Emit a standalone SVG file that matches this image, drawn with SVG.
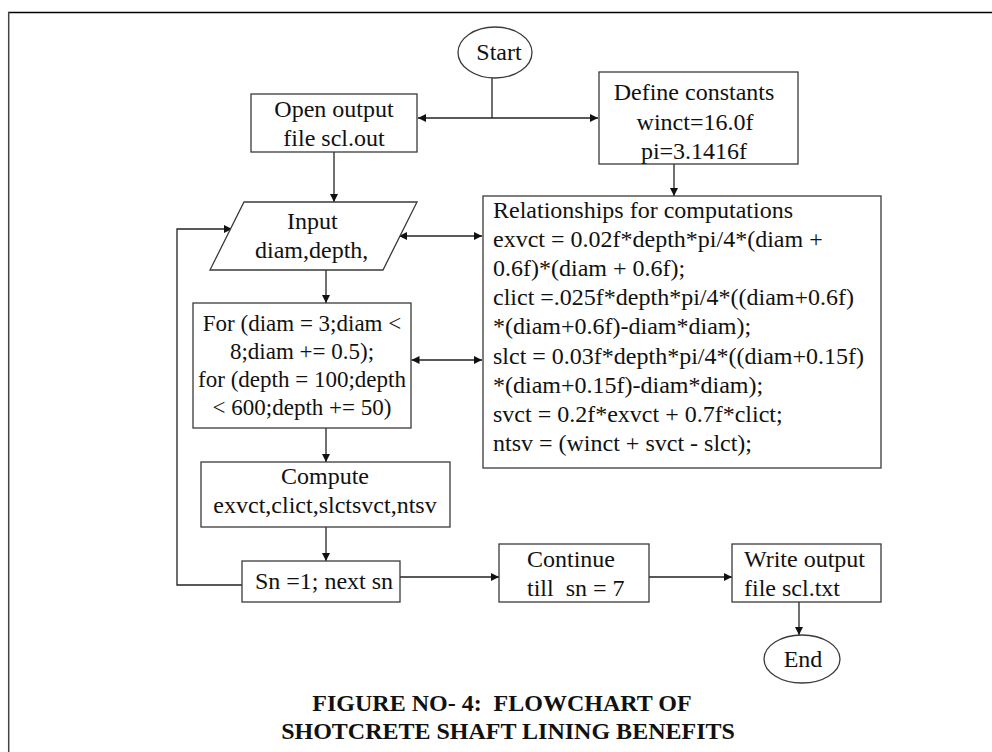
<svg xmlns="http://www.w3.org/2000/svg" width="992" height="752" viewBox="0 0 992 752">
<style>
.b{fill:#fff;stroke:#3a3a3a;stroke-width:1.3}
.t{font-family:"Liberation Serif","Times New Roman",serif;font-size:24px;fill:#111}
.s{font-size:23px}
.m{text-anchor:middle}
.c{fill:none;stroke:#222;stroke-width:1.3}
.title{font-family:"Liberation Serif","Times New Roman",serif;font-size:24px;font-weight:bold;fill:#111}
</style>
<defs>
<marker id="ah" viewBox="0 0 10 10" refX="10" refY="5" markerWidth="8" markerHeight="8" markerUnits="userSpaceOnUse" orient="auto-start-reverse">
<path d="M0,0 L10,5 L0,10 z" fill="#111"/>
</marker>
</defs>
<rect width="992" height="752" fill="#fff"/>
<g id="frame">
<line x1="8" y1="12.5" x2="992" y2="12.5" stroke="#000" stroke-width="1.5"/>
<line x1="8.7" y1="12" x2="8.7" y2="752" stroke="#444" stroke-width="1.5"/>
</g>
<g id="connectors">
<polyline class="c" points="492,78 492,118"/>
<line class="c" x1="418" y1="118" x2="598" y2="118" marker-start="url(#ah)" marker-end="url(#ah)"/>
<line class="c" x1="334" y1="152" x2="334" y2="202" marker-end="url(#ah)"/>
<line class="c" x1="674" y1="164" x2="674" y2="196" marker-end="url(#ah)"/>
<line class="c" x1="399" y1="236" x2="482" y2="236" marker-start="url(#ah)" marker-end="url(#ah)"/>
<line class="c" x1="326" y1="270" x2="326" y2="303" marker-end="url(#ah)"/>
<line class="c" x1="411.5" y1="360" x2="482" y2="360" marker-start="url(#ah)" marker-end="url(#ah)"/>
<line class="c" x1="326" y1="428" x2="326" y2="462" marker-end="url(#ah)"/>
<line class="c" x1="326" y1="527" x2="326" y2="561" marker-end="url(#ah)"/>
<polyline class="c" points="242,585 177,585 177,229 232,229" marker-end="url(#ah)"/>
<line class="c" x1="400" y1="577" x2="499" y2="577" marker-end="url(#ah)"/>
<line class="c" x1="649" y1="577" x2="732" y2="577" marker-end="url(#ah)"/>
<line class="c" x1="799" y1="602" x2="799" y2="635" marker-end="url(#ah)"/>
</g>
<g id="start">
<ellipse class="b" cx="495" cy="52.5" rx="37" ry="25.5"/>
<text class="t m" x="499" y="60">Start</text>
</g>
<g id="open-output">
<rect class="b" x="251" y="94" width="166" height="58"/>
<text class="t m" x="334" y="117">Open output</text>
<text class="t m" x="334" y="146">file scl.out</text>
</g>
<g id="define-constants">
<rect class="b" x="599" y="72" width="199" height="92"/>
<text class="t m" x="694" y="100">Define constants</text>
<text class="t m" x="695" y="130">winct=16.0f</text>
<text class="t m" x="694" y="159">pi=3.1416f</text>
</g>
<g id="input">
<polygon class="b" points="244,202 417,202 383,270 210,270"/>
<text class="t" x="287" y="229">Input</text>
<text class="t" x="255" y="258">diam,depth,</text>
</g>
<g id="relationships">
<rect class="b" x="483" y="196" width="398" height="272"/>
<text class="t" x="493" y="218">Relationships for computations</text>
<text class="t" x="493" y="247">exvct = 0.02f*depth*pi/4*(diam +</text>
<text class="t" x="493" y="276">0.6f)*(diam + 0.6f);</text>
<text class="t" x="493" y="305">clict =.025f*depth*pi/4*((diam+0.6f)</text>
<text class="t" x="493" y="334">*(diam+0.6f)-diam*diam);</text>
<text class="t" x="493" y="364">slct = 0.03f*depth*pi/4*((diam+0.15f)</text>
<text class="t" x="493" y="393">*(diam+0.15f)-diam*diam);</text>
<text class="t" x="493" y="422">svct = 0.2f*exvct + 0.7f*clict;</text>
<text class="t" x="493" y="451">ntsv = (winct + svct - slct);</text>
</g>
<g id="for-loop">
<rect class="b" x="193" y="303" width="218" height="125"/>
<text class="t s m" x="302" y="331">For (diam = 3;diam &lt;</text>
<text class="t s m" x="302" y="359">8;diam += 0.5);</text>
<text class="t s m" x="302" y="387">for (depth = 100;depth</text>
<text class="t s m" x="302" y="415">&lt; 600;depth += 50)</text>
</g>
<g id="compute">
<rect class="b" x="201" y="462" width="249" height="65"/>
<text class="t m" x="325" y="484">Compute</text>
<text class="t m" x="325" y="513">exvct,clict,slctsvct,ntsv</text>
</g>
<g id="sn">
<rect class="b" x="242" y="561" width="158" height="41"/>
<text class="t m" x="324" y="589">Sn =1; next sn</text>
</g>
<g id="continue">
<rect class="b" x="499" y="544" width="150" height="58"/>
<text class="t" x="527" y="567">Continue</text>
<text class="t" x="527" y="596" xml:space="preserve">till  sn = 7</text>
</g>
<g id="write-output">
<rect class="b" x="732" y="544" width="149" height="58"/>
<text class="t" x="744" y="567">Write output</text>
<text class="t" x="744" y="596">file scl.txt</text>
</g>
<g id="end">
<ellipse class="b" cx="802" cy="659" rx="38" ry="24"/>
<text class="t m" x="803" y="667">End</text>
</g>
<g id="caption">
<text class="title m" x="502" y="711" xml:space="preserve">FIGURE NO- 4:  FLOWCHART OF</text>
<text class="title m" x="508" y="739">SHOTCRETE SHAFT LINING BENEFITS</text>
</g>
</svg>
